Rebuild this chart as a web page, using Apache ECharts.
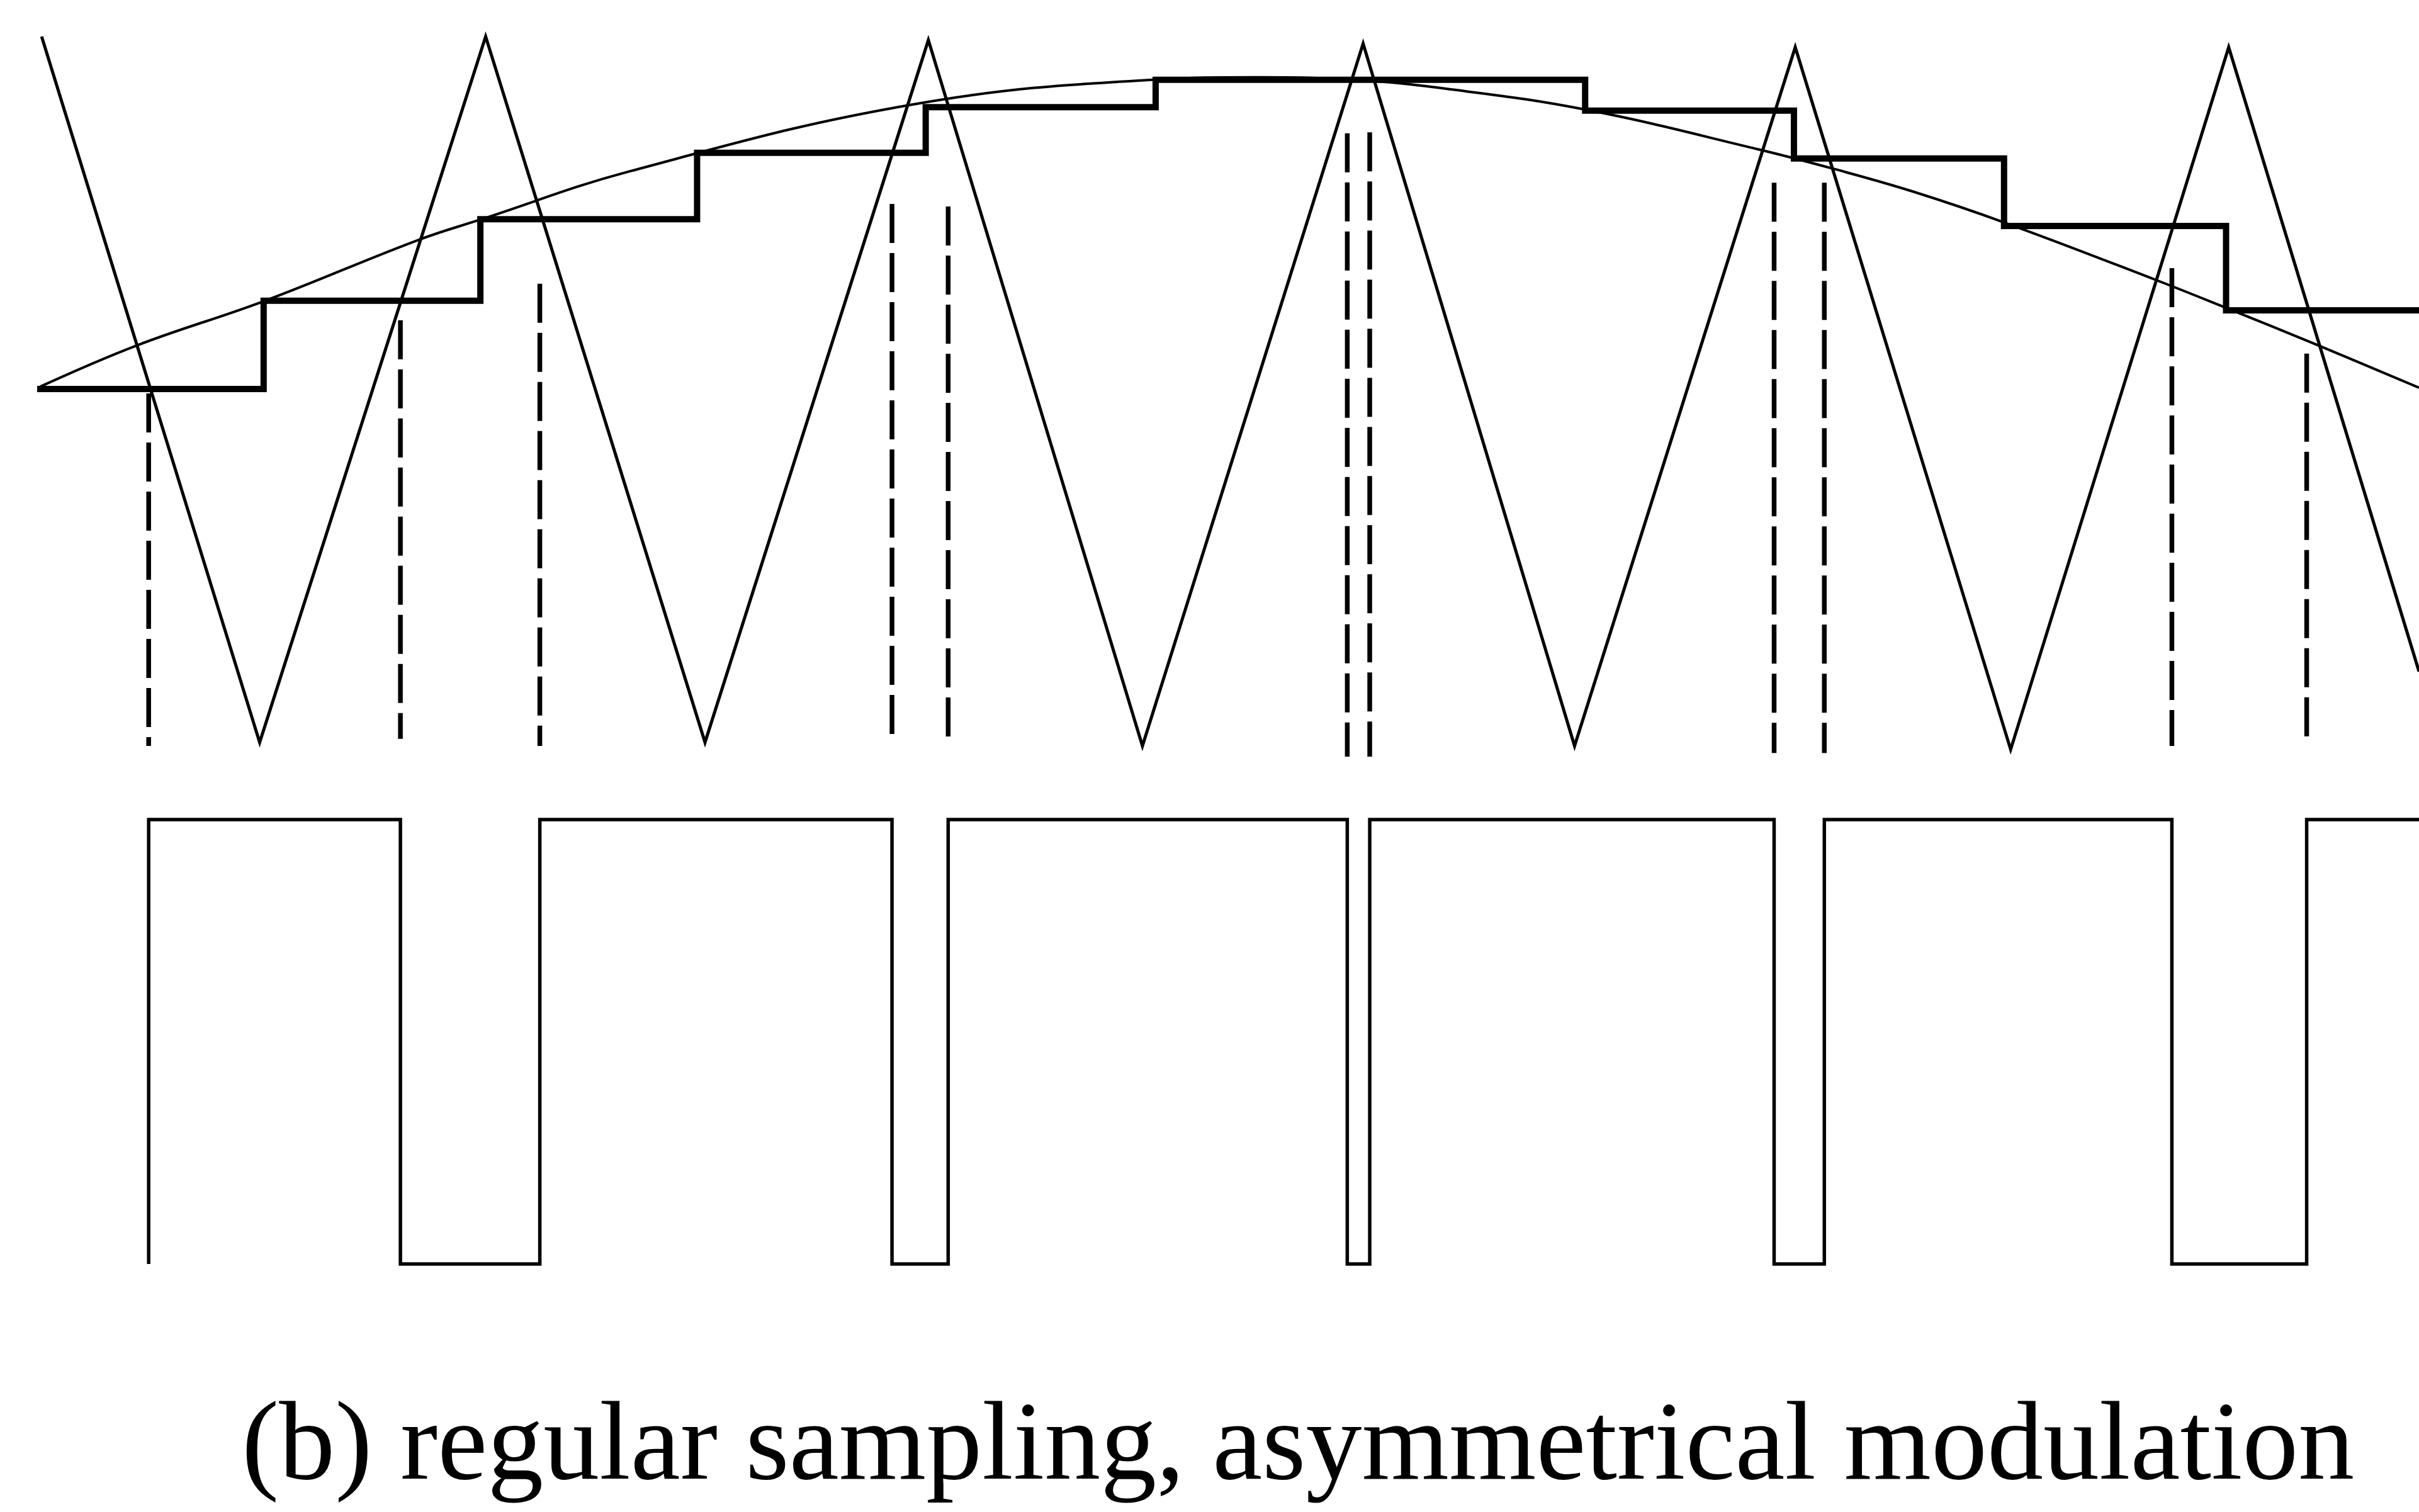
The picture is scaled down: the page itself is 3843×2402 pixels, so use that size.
<!DOCTYPE html>
<html>
<head>
<meta charset="utf-8">
<script src="https://cdn.jsdelivr.net/npm/echarts@6/dist/echarts.min.js"></script>
<style>
html,body{margin:0;padding:0;background:#fff;}
#chart{width:3843px;height:2402px;}
</style>
</head>
<body>
<div id="chart"></div>
<script>
// x values: phase of the modulating wave in degrees
const carrierT = [0.1, 16.6, 33.7, 50.3, 67.2, 83.4, 100.1, 116.1, 132.8, 149.1, 165.6, 180];
const carrierV = [1.0, -0.99, 1.0, -0.99, 0.99, -1.0, 0.98, -1.0, 0.97, -1.01, 0.97, -0.79];

const sineT = [0, 7.3, 17.0, 28.5, 33.4, 44.6, 65.8, 84.1, 92.2, 99.4, 106.3, 116.9, 130.0, 135.7, 141.7, 148.6, 160.0, 165.4, 172.2, 180];
const sineV = [0.013, 0.129, 0.255, 0.425, 0.485, 0.620, 0.807, 0.878, 0.885, 0.878, 0.853, 0.794, 0.682, 0.627, 0.563, 0.476, 0.315, 0.235, 0.132, 0.010];

const sampleT = [0, 16.9, 33.3, 49.7, 67.0, 84.4, 100.1, 116.9, 132.7, 148.6, 165.4];
const sampleV = [0.006, 0.255, 0.485, 0.672, 0.801, 0.878, 0.878, 0.791, 0.656, 0.466, 0.228];

const switchT = [8.2, 27.25, 37.8, 64.45, 68.7, 98.9, 100.6, 131.2, 135.0, 161.3, 171.5];
const dashTopV = [-0.006, 0.200, 0.303, 0.528, 0.521, 0.727, 0.730, 0.588, 0.588, 0.347, 0.106];
const dashBottomV = [-1.0, -0.98, -1.0, -0.97, -0.98, -1.03, -1.03, -1.02, -1.02, -1.0, -0.98];

const pulseLow = 0, pulseHigh = 1;
const caption = '(b) regular sampling, asymmetrical modulation';

const xStart = -3.05, xEnd = 180;

const carrierData = carrierT.map((t, i) => [t, carrierV[i]]);
const sineData = sineT.map((t, i) => [t, sineV[i]]);
const stairData = sampleT.map((t, i) => [t, sampleV[i]]);
stairData.push([xEnd, sampleV[sampleV.length - 1]]);

const pulseData = [[switchT[0], pulseLow]];
let level = pulseHigh;
switchT.forEach(t => { pulseData.push([t, level]); level = level === pulseHigh ? pulseLow : pulseHigh; });
pulseData.push([xEnd, level === pulseHigh ? pulseLow : pulseHigh]);

const black = '#000';
const series = [
  { type: 'line', xAxisIndex: 0, yAxisIndex: 0, data: sineData, smooth: 0.4, showSymbol: false, symbol: 'none',
    lineStyle: { color: black, width: 4 }, z: 2 },
  { type: 'line', xAxisIndex: 0, yAxisIndex: 0, data: carrierData, showSymbol: false, symbol: 'none',
    lineStyle: { color: black, width: 5, join: 'miter', miterLimit: 10 }, z: 3 },
  { type: 'line', xAxisIndex: 0, yAxisIndex: 0, data: stairData, step: 'end', showSymbol: false, symbol: 'none',
    lineStyle: { color: black, width: 10, join: 'miter', cap: 'square' }, z: 4 },
  { type: 'line', xAxisIndex: 1, yAxisIndex: 1, data: pulseData, step: 'end', showSymbol: false, symbol: 'none',
    lineStyle: { color: black, width: 5.5, join: 'miter' }, z: 3 }
];
switchT.forEach((t, i) => {
  series.push({ type: 'line', xAxisIndex: 0, yAxisIndex: 0, data: [[t, dashTopV[i]], [t, dashBottomV[i]]],
    showSymbol: false, symbol: 'none', lineStyle: { color: black, width: 7.5, type: [62, 16], cap: 'butt' }, z: 2 });
});

const chart = echarts.init(document.getElementById('chart'), null, { renderer: 'canvas' });
chart.setOption({
  animation: false,
  backgroundColor: '#fff',
  grid: [
    { left: 0, right: 0, top: 1.65, height: 1296.05 },
    { left: 0, right: 0, top: 1231.4, height: 847.2 }
  ],
  xAxis: [
    { type: 'value', gridIndex: 0, min: xStart, max: xEnd, show: false },
    { type: 'value', gridIndex: 1, min: xStart, max: xEnd, show: false }
  ],
  yAxis: [
    { type: 'value', gridIndex: 0, min: -1.2, max: 1.1, show: false },
    { type: 'value', gridIndex: 1, min: -0.1, max: 1.1, show: false }
  ],
  graphic: [
    { type: 'text', left: 384, top: 2213, style: { text: caption, font: '178px "Liberation Serif"', fill: black } }
  ],
  series: series
});
</script>
</body>
</html>
